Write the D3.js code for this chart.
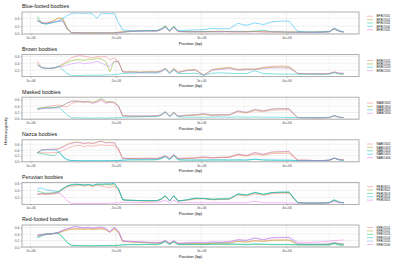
<!DOCTYPE html>
<html><head><meta charset="utf-8">
<script src="https://cdn.jsdelivr.net/npm/d3@7"></script>
<style>body{margin:0;background:#fff}svg{display:block}text{font-family:"Liberation Sans",Arial,sans-serif}</style>
</head><body><svg id="c" width="400" height="263"></svg>
<script>
const positions = [1080000,1130000,1180000,1230000,1280000,1330000,1380000,1430000,1480000,1530000,1580000,1630000,1680000,1730000,1780000,1830000,1880000,1930000,1980000,2030000,2080000,2130000,2180000,2280000,2380000,2480000,2530000,2580000,2630000,2680000,2730000,2830000,2930000,3030000,3130000,3230000,3330000,3430000,3530000,3630000,3730000,3830000,3930000,4030000,4130000,4230000,4330000,4430000,4500000,4560000,4620000,4670000];

const speciesTitles = ["Blue-footed boobies","Brown boobies","Masked boobies","Nazca boobies","Peruvian boobies","Red-footed boobies"];

const bfboNames = ["BFBO501","BFBO502","BFBO503","BFBO504","BFBO505"];
const bfboValues = [
[0.35,0.30,0.28,0.31,0.35,0.40,0.37,0.13, 0.03,0.02,0.02,0.02,0.03,0.02,0.02,0.03,0.02,0.02,0.03, 0.04,0.05,0.06,0.07, 0.08,0.07,0.08,0.12,0.19,0.07,0.18,0.06, 0.05,0.06,0.05,0.06,0.05,0.06, 0.05,0.05,0.06,0.05,0.05,0.04,0.05, 0.04,0.04,0.04,0.05,0.06,0.14,0.07,0.05],
[0.36,0.28,0.27,0.30,0.35,0.42,0.40,0.15, 0.03,0.03,0.02,0.02,0.02,0.03,0.02,0.02,0.02,0.03,0.02, 0.04,0.05,0.06,0.06, 0.08,0.08,0.07,0.11,0.20,0.06,0.19,0.05, 0.06,0.05,0.05,0.06,0.07,0.05, 0.05,0.06,0.06,0.05,0.05,0.05,0.04, 0.05,0.04,0.05,0.05,0.05,0.13,0.06,0.05],
[0.45,0.27,0.25,0.27,0.30,0.33,0.33,0.12, 0.02,0.02,0.03,0.02,0.02,0.02,0.03,0.02,0.02,0.02,0.02, 0.03,0.04,0.05,0.06, 0.07,0.08,0.08,0.13,0.21,0.08,0.20,0.07, 0.05,0.05,0.06,0.05,0.05,0.06, 0.06,0.05,0.07,0.09,0.05,0.05,0.04, 0.04,0.04,0.04,0.04,0.06,0.12,0.07,0.04],
[0.34,0.28,0.26,0.28,0.30,0.33,0.40,0.47, 0.53,0.54,0.54,0.53,0.54,0.51,0.40,0.54,0.53,0.52,0.53, 0.30,0.10,0.09,0.08, 0.07,0.08,0.08,0.11,0.17,0.08,0.16,0.08, 0.09,0.10,0.11,0.14,0.13,0.13, 0.27,0.22,0.28,0.24,0.31,0.33,0.33, 0.06,0.05,0.04,0.05,0.05,0.15,0.08,0.05],
[0.33,0.29,0.27,0.29,0.31,0.33,0.33,0.12, 0.03,0.03,0.02,0.03,0.02,0.02,0.02,0.02,0.03,0.02,0.02, 0.03,0.04,0.05,0.06, 0.07,0.07,0.07,0.10,0.18,0.07,0.17,0.06, 0.05,0.05,0.05,0.05,0.06,0.05, 0.05,0.05,0.05,0.05,0.05,0.05,0.04, 0.04,0.04,0.04,0.04,0.05,0.13,0.06,0.04]
];

const brboNames = ["BRBO201","BRBO202","BRBO203","BRBO205"];
const brboValues = [
[0.46,0.28,0.25,0.25,0.26,0.30,0.38,0.46, 0.56,0.60,0.62,0.60,0.58,0.55,0.60,0.58,0.60,0.50,0.55, 0.45,0.15,0.15,0.15, 0.14,0.15,0.14,0.18,0.25,0.13,0.24,0.14, 0.20,0.22,0.05,0.22,0.25,0.28, 0.22,0.24,0.23,0.28,0.31,0.32,0.31, 0.10,0.09,0.09,0.09,0.10,0.15,0.10,0.09],
[0.38,0.28,0.25,0.25,0.26,0.30,0.35,0.42, 0.47,0.50,0.50,0.48,0.52,0.50,0.55,0.52,0.45,0.15,0.45, 0.45,0.15,0.14,0.15, 0.14,0.15,0.15,0.17,0.24,0.12,0.25,0.13, 0.19,0.21,0.05,0.21,0.24,0.26, 0.21,0.22,0.22,0.26,0.28,0.29,0.28, 0.10,0.09,0.09,0.08,0.10,0.14,0.09,0.09],
[0.34,0.27,0.25,0.25,0.27,0.32,0.20,0.10, 0.04,0.04,0.04,0.05,0.05,0.05,0.05,0.05,0.06,0.06,0.07, 0.08,0.10,0.11,0.11, 0.12,0.12,0.11,0.15,0.24,0.10,0.20,0.10, 0.10,0.11,0.05,0.11,0.12,0.11, 0.10,0.10,0.18,0.10,0.09,0.08,0.08, 0.08,0.08,0.08,0.08,0.08,0.12,0.09,0.08],
[0.35,0.27,0.25,0.25,0.26,0.29,0.30,0.35, 0.38,0.40,0.42,0.38,0.40,0.42,0.45,0.40,0.35,0.30,0.45, 0.45,0.15,0.14,0.14, 0.13,0.14,0.14,0.16,0.23,0.12,0.22,0.13, 0.18,0.20,0.05,0.20,0.22,0.24, 0.20,0.21,0.21,0.24,0.26,0.26,0.25, 0.11,0.10,0.09,0.09,0.10,0.14,0.12,0.12]
];

const maboNames = ["MABO302","MABO304","MABO305","MABO306"];
const maboValues = [
[0.32,0.35,0.37,0.40,0.42,0.43,0.40,0.38, 0.48,0.53,0.54,0.52,0.53,0.49,0.54,0.58,0.50,0.52,0.50, 0.40,0.10,0.09,0.08, 0.08,0.08,0.09,0.12,0.22,0.08,0.20,0.08, 0.10,0.11,0.14,0.10,0.12,0.12, 0.22,0.18,0.26,0.22,0.27,0.28,0.28, 0.04,0.04,0.03,0.03,0.04,0.09,0.05,0.04],
[0.30,0.34,0.35,0.35,0.36,0.38,0.42,0.50, 0.55,0.56,0.55,0.54,0.55,0.52,0.57,0.65,0.55,0.54,0.53, 0.42,0.10,0.09,0.08, 0.09,0.08,0.09,0.13,0.23,0.09,0.21,0.08, 0.11,0.12,0.15,0.12,0.13,0.13, 0.25,0.20,0.29,0.25,0.31,0.32,0.32, 0.04,0.03,0.03,0.03,0.04,0.10,0.05,0.04],
[0.33,0.33,0.34,0.34,0.35,0.37,0.25,0.12, 0.04,0.03,0.03,0.03,0.02,0.02,0.03,0.03,0.02,0.03,0.03, 0.04,0.05,0.05,0.06, 0.06,0.07,0.07,0.11,0.20,0.07,0.18,0.06, 0.05,0.05,0.05,0.05,0.06,0.05, 0.06,0.05,0.06,0.05,0.05,0.05,0.04, 0.04,0.04,0.04,0.04,0.05,0.10,0.05,0.04],
[0.27,0.32,0.33,0.33,0.34,0.35,0.42,0.50, 0.55,0.56,0.54,0.53,0.55,0.50,0.52,0.62,0.50,0.53,0.52, 0.40,0.10,0.09,0.09, 0.09,0.09,0.10,0.12,0.22,0.08,0.20,0.09, 0.12,0.13,0.17,0.12,0.13,0.13, 0.25,0.21,0.30,0.25,0.31,0.32,0.32, 0.04,0.03,0.03,0.03,0.04,0.10,0.05,0.04]
];

const naboNames = ["NABO402","NABO403","NABO404","NABO405","NABO406"];
const naboValues = [
[0.30,0.30,0.30,0.30,0.31,0.32,0.38,0.45, 0.52,0.55,0.56,0.52,0.55,0.53,0.56,0.58,0.55,0.56,0.55, 0.40,0.10,0.10,0.10, 0.09,0.10,0.10,0.13,0.18,0.09,0.22,0.09, 0.10,0.11,0.13,0.12,0.13,0.14, 0.22,0.18,0.25,0.21,0.27,0.28,0.28, 0.04,0.04,0.03,0.03,0.04,0.11,0.06,0.05],
[0.30,0.40,0.42,0.42,0.43,0.45,0.52,0.60, 0.65,0.68,0.66,0.62,0.66,0.63,0.68,0.70,0.66,0.67,0.66, 0.45,0.11,0.10,0.10, 0.10,0.11,0.10,0.14,0.20,0.10,0.24,0.10, 0.11,0.12,0.15,0.13,0.14,0.15, 0.25,0.20,0.30,0.24,0.32,0.33,0.34, 0.04,0.04,0.03,0.03,0.04,0.12,0.06,0.05],
[0.31,0.27,0.24,0.22,0.20,0.33,0.15,0.05, 0.03,0.02,0.02,0.02,0.02,0.02,0.02,0.02,0.02,0.02,0.03, 0.03,0.04,0.05,0.05, 0.05,0.05,0.06,0.09,0.17,0.06,0.20,0.05, 0.04,0.04,0.04,0.05,0.05,0.04, 0.05,0.04,0.07,0.05,0.04,0.04,0.04, 0.03,0.03,0.03,0.03,0.04,0.11,0.05,0.04],
[0.30,0.39,0.40,0.40,0.40,0.36,0.18,0.06, 0.03,0.03,0.02,0.02,0.03,0.02,0.02,0.02,0.03,0.02,0.02, 0.03,0.04,0.05,0.06, 0.06,0.06,0.06,0.10,0.18,0.06,0.21,0.06, 0.05,0.05,0.05,0.05,0.05,0.05, 0.05,0.05,0.08,0.05,0.05,0.04,0.04, 0.03,0.03,0.03,0.03,0.04,0.12,0.05,0.04],
[0.30,0.40,0.42,0.42,0.42,0.43,0.50,0.58, 0.63,0.66,0.65,0.63,0.64,0.62,0.66,0.72,0.64,0.65,0.64, 0.44,0.11,0.11,0.11, 0.11,0.11,0.11,0.14,0.19,0.11,0.23,0.11, 0.12,0.13,0.16,0.13,0.15,0.15, 0.26,0.21,0.31,0.25,0.33,0.34,0.35, 0.04,0.04,0.03,0.03,0.04,0.11,0.06,0.05]
];

const peboNames = ["PEBO601","PEBO602","PEBO603","PEBO604","PEBO605"];
const peboValues = [
[0.28,0.30,0.28,0.29,0.30,0.33,0.43,0.50, 0.52,0.53,0.55,0.52,0.54,0.50,0.55,0.52,0.50,0.48,0.52, 0.42,0.13,0.12,0.11, 0.10,0.10,0.10,0.14,0.23,0.10,0.24,0.09, 0.12,0.15,0.16,0.13,0.14,0.15, 0.27,0.24,0.30,0.26,0.31,0.32,0.32, 0.05,0.04,0.04,0.04,0.05,0.12,0.06,0.05],
[0.30,0.31,0.31,0.32,0.33,0.38,0.45,0.52, 0.55,0.56,0.57,0.55,0.56,0.53,0.57,0.55,0.57,0.55,0.57, 0.44,0.13,0.12,0.12, 0.11,0.10,0.11,0.14,0.24,0.10,0.25,0.10, 0.13,0.17,0.17,0.14,0.15,0.16, 0.29,0.26,0.33,0.28,0.33,0.34,0.34, 0.05,0.04,0.04,0.04,0.05,0.12,0.06,0.05],
[0.38,0.35,0.32,0.32,0.33,0.35,0.45,0.53, 0.56,0.57,0.56,0.55,0.57,0.54,0.58,0.57,0.58,0.58,0.60, 0.45,0.14,0.12,0.12, 0.11,0.11,0.11,0.15,0.25,0.10,0.25,0.10, 0.13,0.18,0.17,0.15,0.16,0.16, 0.30,0.27,0.34,0.29,0.34,0.35,0.35, 0.05,0.04,0.04,0.04,0.05,0.13,0.06,0.05],
[0.45,0.47,0.42,0.40,0.38,0.36,0.45,0.53, 0.57,0.58,0.57,0.56,0.57,0.55,0.58,0.58,0.59,0.58,0.60, 0.45,0.14,0.12,0.12, 0.11,0.11,0.11,0.15,0.25,0.11,0.25,0.10, 0.13,0.18,0.17,0.15,0.16,0.16, 0.30,0.27,0.35,0.29,0.34,0.35,0.36, 0.05,0.04,0.04,0.04,0.05,0.13,0.06,0.05],
[0.30,0.30,0.30,0.31,0.32,0.33,0.25,0.10, 0.03,0.03,0.03,0.03,0.03,0.03,0.03,0.03,0.03,0.04,0.04, 0.05,0.06,0.06,0.06, 0.05,0.06,0.06,0.08,0.12,0.05,0.12,0.05, 0.05,0.05,0.05,0.05,0.05,0.05, 0.05,0.05,0.09,0.05,0.05,0.05,0.04, 0.04,0.04,0.04,0.04,0.04,0.08,0.05,0.04]
];

const rfboNames = ["RFBO101","RFBO102","RFBO103","RFBO104","RFBO105","RFBO106"];
const rfboValues = [
[0.35,0.38,0.40,0.40,0.42,0.45,0.50,0.55, 0.57,0.56,0.58,0.57,0.58,0.56,0.57,0.58,0.55,0.47,0.58, 0.48,0.18,0.17,0.16, 0.15,0.13,0.12,0.13,0.18,0.10,0.17,0.10, 0.10,0.11,0.10,0.12,0.12,0.13, 0.18,0.16,0.20,0.18,0.22,0.22,0.22, 0.09,0.08,0.08,0.08,0.09,0.13,0.10,0.09],
[0.36,0.38,0.40,0.40,0.42,0.44,0.48,0.52, 0.54,0.55,0.55,0.54,0.55,0.54,0.55,0.55,0.53,0.45,0.55, 0.45,0.17,0.16,0.15, 0.14,0.13,0.12,0.13,0.17,0.10,0.16,0.10, 0.10,0.10,0.10,0.11,0.12,0.12, 0.17,0.15,0.19,0.17,0.20,0.21,0.21, 0.08,0.08,0.08,0.08,0.09,0.12,0.09,0.08],
[0.30,0.36,0.40,0.41,0.42,0.43,0.30,0.15, 0.05,0.04,0.04,0.04,0.03,0.03,0.04,0.04,0.04,0.04,0.04, 0.05,0.06,0.07,0.07, 0.07,0.08,0.07,0.10,0.17,0.08,0.16,0.07, 0.07,0.07,0.07,0.08,0.08,0.08, 0.08,0.07,0.08,0.08,0.07,0.07,0.07, 0.06,0.06,0.06,0.06,0.06,0.10,0.06,0.05],
[0.28,0.34,0.38,0.40,0.41,0.43,0.28,0.13, 0.05,0.05,0.04,0.04,0.04,0.04,0.04,0.05,0.04,0.05,0.05, 0.06,0.07,0.07,0.08, 0.08,0.08,0.08,0.11,0.18,0.08,0.17,0.08, 0.08,0.08,0.08,0.09,0.09,0.09, 0.09,0.08,0.10,0.09,0.08,0.08,0.08, 0.07,0.07,0.07,0.07,0.07,0.11,0.07,0.06],
[0.37,0.39,0.41,0.41,0.43,0.46,0.52,0.57, 0.60,0.65,0.61,0.60,0.61,0.59,0.61,0.62,0.58,0.48,0.62, 0.50,0.19,0.18,0.17, 0.16,0.14,0.13,0.14,0.20,0.11,0.19,0.11, 0.12,0.14,0.13,0.15,0.14,0.16, 0.22,0.20,0.27,0.22,0.28,0.29,0.29, 0.10,0.09,0.09,0.09,0.10,0.14,0.11,0.10],
[0.34,0.37,0.39,0.40,0.42,0.45,0.51,0.56, 0.60,0.63,0.60,0.59,0.60,0.58,0.60,0.61,0.57,0.46,0.60, 0.49,0.19,0.18,0.17, 0.16,0.15,0.14,0.15,0.20,0.12,0.19,0.12, 0.14,0.15,0.14,0.16,0.15,0.17, 0.23,0.21,0.28,0.23,0.29,0.30,0.30, 0.15,0.14,0.15,0.16,0.18,0.20,0.21,0.22]
];

const yTickValues = [0, 0.2, 0.4, 0.6];
const xTickValues = [1000000, 2000000, 3000000, 4000000];
const xTickLabels = ["1e+06", "2e+06", "3e+06", "4e+06"];
const xAxisTitle = "Position (bp)";
const yAxisTitle = "Heterozygosity";

const hue = {
  4: ["#F8766D","#7CAE00","#00BFC4","#C77CFF"],
  5: ["#F8766D","#A3A500","#00BF7D","#00B0F6","#E76BF3"],
  6: ["#F8766D","#B79F00","#00BA38","#00BFC4","#619CFF","#F564E3"]
};

const panels = [
  {title: speciesTitles[0], names: bfboNames, values: bfboValues},
  {title: speciesTitles[1], names: brboNames, values: brboValues},
  {title: speciesTitles[2], names: maboNames, values: maboValues},
  {title: speciesTitles[3], names: naboNames, values: naboValues},
  {title: speciesTitles[4], names: peboNames, values: peboValues},
  {title: speciesTitles[5], names: rfboNames, values: rfboValues}
];

const svg = d3.select("#c");
const left = 22, right = 359, step = 42.6, pTop = 12, pH = 22;
const xr = d3.extent(positions), xpad = (xr[1]-xr[0])*0.05;
const x = d3.scaleLinear().domain([xr[0]-xpad, xr[1]+xpad]).range([left, right]);

panels.forEach((p, k) => {
  const top = pTop + k*step, bottom = top + pH;
  const g = svg.append("g");
  const all = p.values.flat();
  const yr = d3.extent(all), ypad = (yr[1]-yr[0])*0.05;
  const y = d3.scaleLinear().domain([yr[0]-ypad, yr[1]+ypad]).range([bottom, top]);
  const cols = hue[p.names.length];

  const xMinor = [1500000, 2500000, 3500000, 4500000];
  const yMinor = [0.1, 0.3, 0.5].filter(v => v >= y.domain()[0] && v <= y.domain()[1]);
  const yMajor = yTickValues.filter(v => v >= y.domain()[0] && v <= y.domain()[1]);
  g.selectAll(".xm").data(xMinor).join("line").attr("x1", d=>x(d)).attr("x2", d=>x(d)).attr("y1", top).attr("y2", bottom).attr("stroke", "#f2f2f2").attr("stroke-width", 0.4);
  g.selectAll(".ym").data(yMinor).join("line").attr("x1", left).attr("x2", right).attr("y1", d=>y(d)).attr("y2", d=>y(d)).attr("stroke", "#f2f2f2").attr("stroke-width", 0.4);
  g.selectAll(".xM").data(xTickValues).join("line").attr("x1", d=>x(d)).attr("x2", d=>x(d)).attr("y1", top).attr("y2", bottom).attr("stroke", "#e6e6e6").attr("stroke-width", 0.6);
  g.selectAll(".yM").data(yMajor).join("line").attr("x1", left).attr("x2", right).attr("y1", d=>y(d)).attr("y2", d=>y(d)).attr("stroke", "#e6e6e6").attr("stroke-width", 0.6);

  const line = d3.line().x((d,i)=>x(positions[i])).y(d=>y(d));
  p.values.forEach((vals, s) => {
    g.append("path").attr("d", line(vals)).attr("fill", "none").attr("stroke", cols[s]).attr("stroke-width", 0.8).attr("stroke-opacity", 0.6).attr("stroke-linejoin","round");
  });

  g.append("rect").attr("x", left).attr("y", top).attr("width", right-left).attr("height", bottom-top).attr("fill", "none").attr("stroke", "#a6a6a6").attr("stroke-width", 0.9);

  const ya = d3.axisLeft(y).tickValues(yMajor).tickFormat(d3.format(".1f")).tickSize(1.5).tickPadding(1);
  const yg = g.append("g").attr("transform", `translate(${left},0)`).call(ya);
  const xa = d3.axisBottom(x).tickValues(xTickValues).tickFormat((d,i)=>xTickLabels[i]).tickSize(1.5).tickPadding(1);
  const xg = g.append("g").attr("transform", `translate(0,${bottom})`).call(xa);
  [yg, xg].forEach(a => {
    a.select(".domain").remove();
    a.selectAll(".tick line").attr("stroke", "#888").attr("stroke-width", 0.5);
    a.selectAll(".tick text").attr("font-size", 3.4).attr("fill", "#555").style("font-family", '"Liberation Sans",Arial,sans-serif');
  });

  g.append("text").attr("x", left).attr("y", top - 3.6).attr("font-size", 5.3).attr("fill", "#111").text(p.title);
  g.append("text").attr("x", (left+right)/2).attr("y", bottom + 10.5).attr("text-anchor", "middle").attr("font-size", 4.2).attr("fill", "#111").text(xAxisTitle);

  const n = p.names.length, lh = 3.4, cy = (top+bottom)/2;
  p.names.forEach((nm, s) => {
    const yy = cy + (s - (n-1)/2)*lh;
    g.append("line").attr("x1", 367).attr("x2", 373).attr("y1", yy).attr("y2", yy).attr("stroke", cols[s]).attr("stroke-width", 0.8).attr("stroke-opacity", 0.6);
    g.append("text").attr("x", 376.5).attr("y", yy + 1.1).attr("font-size", 3.1).attr("fill", "#222").text(nm);
  });
});

svg.append("text").attr("transform", "translate(6.5,131) rotate(-90)").attr("text-anchor", "middle").attr("font-size", 4.2).attr("fill", "#111").text(yAxisTitle);
</script></body></html>
